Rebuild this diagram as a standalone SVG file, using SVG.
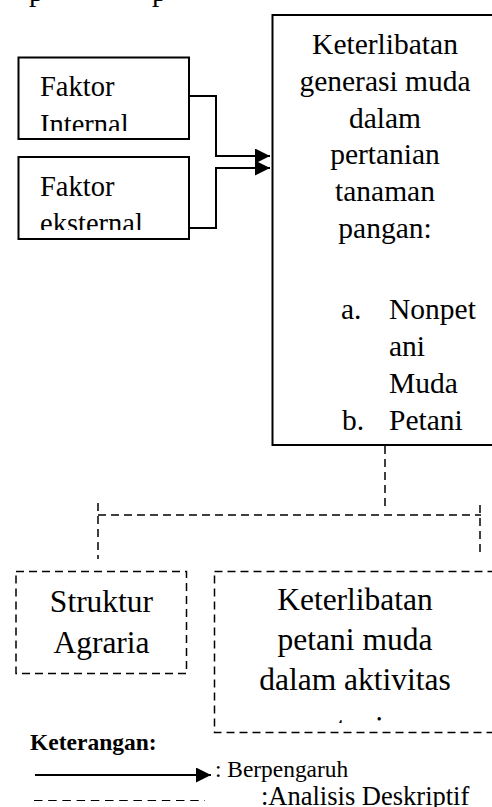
<svg xmlns="http://www.w3.org/2000/svg" width="492" height="807" viewBox="0 0 492 807">
<style>
.t{font-family:"Liberation Serif","Times New Roman",serif;fill:#000}
.box{fill:#fff;stroke:#000;stroke-width:2}
.dbox{fill:#fff;stroke:#000;stroke-width:1.5;stroke-dasharray:8 5}
.solid{fill:none;stroke:#000;stroke-width:2}
.dash{fill:none;stroke:#000;stroke-width:1.5;stroke-dasharray:8 5}
</style>
<defs>
<marker id="ah" markerUnits="userSpaceOnUse" markerWidth="16" markerHeight="16" refX="15" refY="7.5" orient="auto" viewBox="0 0 16 16">
<path d="M0,0 L15,7.5 L0,15 Z" fill="#000"/>
</marker>
<clipPath id="c1"><rect x="18" y="57" width="172" height="74"/></clipPath>
<clipPath id="c2"><rect x="18" y="157" width="172" height="73"/></clipPath>
<clipPath id="c3"><rect x="215" y="572" width="277" height="151"/></clipPath>
</defs>
<text class="t" x="29" y="1" font-size="29">p</text>
<text class="t" x="152" y="1" font-size="29">p</text>
<g id="main">
<rect class="box" x="272.5" y="15" width="240" height="430"/>
<g class="t" font-size="29.5" text-anchor="middle">
<text x="385" y="54">Keterlibatan</text>
<text x="385" y="91">generasi muda</text>
<text x="385" y="128">dalam</text>
<text x="385" y="164">pertanian</text>
<text x="385" y="201">tanaman</text>
<text x="385" y="238">pangan:</text>
</g>
<g class="t" font-size="29.5">
<text x="341" y="319">a.</text>
<text x="389" y="319">Nonpet</text>
<text x="389" y="356">ani</text>
<text x="389" y="393">Muda</text>
<text x="342" y="430">b.</text>
<text x="389" y="430">Petani</text>
</g>
</g>
<g id="internal">
<rect class="box" x="18.5" y="57.5" width="170.5" height="81.5"/>
<g clip-path="url(#c1)" class="t" font-size="28.5">
<text x="40" y="96">Faktor</text>
<text x="40" y="134">Internal</text>
</g>
</g>
<g id="eksternal">
<rect class="box" x="18.5" y="157" width="170.5" height="82"/>
<g clip-path="url(#c2)" class="t" font-size="28.5">
<text x="40" y="196">Faktor</text>
<text x="40" y="233">eksternal</text>
</g>
</g>
<g id="struktur">
<rect class="dbox" x="16" y="571.5" width="170.5" height="102"/>
<g class="t" font-size="31.5" text-anchor="middle">
<text x="101.5" y="611.5">Struktur</text>
<text x="101.5" y="652.5">Agraria</text>
</g>
</g>
<g id="petani">
<rect class="dbox" x="214.5" y="571.5" width="300" height="161"/>
<g clip-path="url(#c3)" class="t" font-size="31.5" text-anchor="middle">
<text x="355" y="610">Keterlibatan</text>
<text x="355" y="650">petani muda</text>
<text x="355" y="690">dalam aktivitas</text>
<text x="355" y="738">pertanian</text>
</g>
</g>
<g id="connectors">
<path class="solid" d="M189,96 H216 V156 H270" marker-end="url(#ah)"/>
<path class="solid" d="M189,228 H216 V168 H270" marker-end="url(#ah)"/>
<path class="dash" d="M385,446 V507"/>
<path class="dash" d="M98,515 H481"/>
<path class="dash" d="M98,503 V559"/>
<path class="dash" d="M480,505 V553"/>
</g>
<g id="legend">
<text class="t" x="30" y="750" font-size="23.5" font-weight="bold">Keterangan:</text>
<path class="solid" d="M35,775 H211" marker-end="url(#ah)"/>
<text class="t" x="215" y="777" font-size="23.4">: Berpengaruh</text>
<path d="M34,800.5 H205" fill="none" stroke="#000" stroke-width="1" stroke-dasharray="8.5 5.7"/>
<text class="t" x="261" y="805" font-size="26.5">:Analisis Deskriptif</text>
</g>
</svg>
